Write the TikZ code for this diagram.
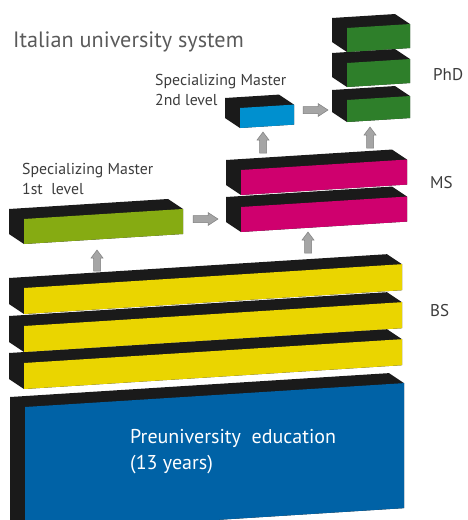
\documentclass[tikz,border=0pt]{standalone}
\usepackage{fontspec}
\setmainfont{PT Sans}
\definecolor{boxblack}{HTML}{1A1A1A}
\definecolor{cyel}{HTML}{EAD500}
\definecolor{cblue}{HTML}{0062A6}
\definecolor{cgreenA}{HTML}{86AB12}
\definecolor{cmag}{HTML}{CF006E}
\definecolor{csky}{HTML}{0090CF}
\definecolor{cgreenB}{HTML}{2E7F2A}
\definecolor{arrfill}{HTML}{A5A5A5}
\definecolor{arrline}{HTML}{7F7F7F}
\definecolor{labgrey}{HTML}{3C3C3C}
\definecolor{titgrey}{HTML}{5A5A5A}
\newcommand{\blk}[5]{%
  \pgfmathsetmacro{\bdy}{-0.063*#3}%
  \fill[boxblack] (#1-15,#2-10) -- (#1+#3-15,#2+\bdy-10) -- (#1+#3,#2+\bdy) -- (#1+#3,#2+\bdy+#4) -- (#1,#2+#4) -- (#1-15,#2+#4-10) -- cycle;
  \fill[#5] (#1,#2) -- (#1+#3,#2+\bdy) -- (#1+#3,#2+\bdy+#4) -- (#1,#2+#4) -- cycle;
}
\tikzset{
  blockarrow/.style={fill=arrfill, draw=arrline, line width=0.5pt},
  pics/uparr/.style={code={
    \draw[blockarrow] (0,0) -- (6,8) -- (3.5,8) -- (3.5,21) -- (-3.5,21) -- (-3.5,8) -- (-6,8) -- cycle;}},
  pics/rtarr/.style={code={
    \draw[blockarrow] (0,0) -- (-10,-6.5) -- (-10,-3.5) -- (-25,-3.5) -- (-25,3.5) -- (-10,3.5) -- (-10,6.5) -- cycle;}},
  lab/.style={text=labgrey, font=\fontsize{15.8}{19.5}\selectfont, inner sep=0pt, align=left},
}
\begin{document}
\begin{tikzpicture}[x=1pt,y=-1pt]
\useasboundingbox (0,0) rectangle (467,520);
\clip (0,0) rectangle (467,520);
% blocks
\blk{25}{407}{379}{125}{cblue}
\blk{24}{363}{378}{26}{cyel}
\blk{24}{326}{378}{26}{cyel}
\blk{24}{288}{378}{26}{cyel}
\blk{24}{219}{159}{25}{cgreenA}
\blk{241}{207}{166}{25}{cmag}
\blk{241}{170}{166}{25}{cmag}
\blk{240}{108}{54}{20}{csky}
\blk{347}{100}{63}{22}{cgreenB}
\blk{347}{63}{63}{24}{cgreenB}
\blk{347}{28}{63}{24}{cgreenB}
% arrows
\pic at (97,250) {uparr};
\pic at (308,232) {uparr};
\pic at (263,132) {uparr};
\pic at (370,127) {uparr};
\pic at (218,219) {rtarr};
\pic at (328,110) {rtarr};
% texts
\node[anchor=west, text=titgrey, font=\fontsize{22.2}{26}\selectfont, inner sep=0pt] (title) at (13,42) {Italian university system};
\node[lab, anchor=west] (sm2) at (155,90) {Specializing Master\\2nd level};
\node[lab, anchor=west] (sm1) at (22,179) {Specializing Master\\1st\ \ level};
\node[lab, anchor=west, font=\fontsize{17}{20}\selectfont] (phd) at (433,75) {PhD};
\node[lab, anchor=west, font=\fontsize{17}{20}\selectfont] (ms) at (430,183) {MS};
\node[lab, anchor=west, font=\fontsize{17}{20}\selectfont] (bs) at (430,311) {BS};
\node[anchor=west, text=white, inner sep=0pt, align=left, font=\fontsize{20}{26}\selectfont] (pre) at (130,452) {Preuniversity\ \ education\\(13 years)};
\end{tikzpicture}
\end{document}
